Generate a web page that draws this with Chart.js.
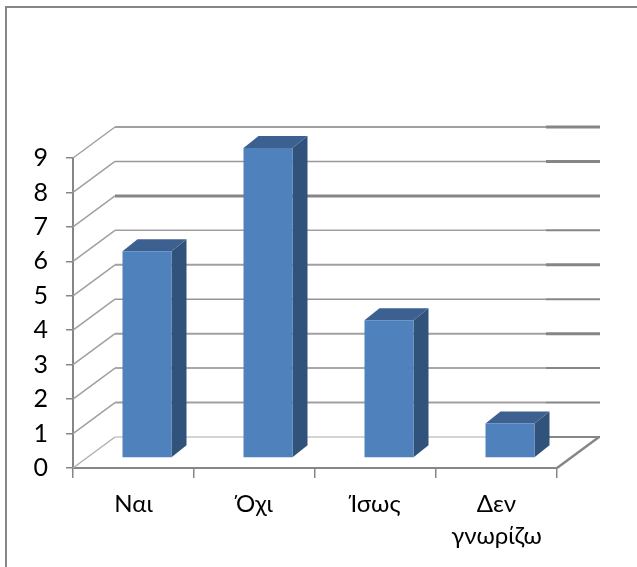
<!DOCTYPE html>
<html lang="el">
<head>
<meta charset="utf-8">
<title>Απαντήσεις</title>
<style>
  html, body { margin: 0; padding: 0; background: #fff; }
  canvas { display: block; }
</style>
<script src="https://cdn.jsdelivr.net/npm/chart.js@4/dist/chart.umd.min.js"></script>
</head>
<body>
<canvas id="chart" width="637" height="567"></canvas>
<script>
const categories = ['Ναι', 'Όχι', 'Ίσως', ['Δεν', 'γνωρίζω']];
const answers = [6, 9, 4, 1];
const axisTicks = [0, 1, 2, 3, 4, 5, 6, 7, 8, 9];

// Stroke weights and tones of the back-wall gridlines, indexed by axis value.
const wallWidths = [2, 2, 1.5, 2, 1.5, 2, 1.5, 3, 1.5, 2];
const wallTones = ['#d4d4d4', '#a0a0a0', '#8c8c8c', '#a0a0a0', '#969696', '#a0a0a0', '#a0a0a0', '#858585', '#999999', '#a0a0a0'];
const stubWidths = [2, 2, 2, 3, 2, 3, 2, 3, 3, 3];

const AXIS = '#868686';
const BAR_FRONT = '#4f81bd';
const BAR_SIDE = '#31527a';
const BAR_TOP = '#3c6190';

// Oblique projection of the box: walls recede by these offsets.
const WALL_DX = 42, WALL_DY = 31;
const BAR_DX = 15, BAR_DY = 12;
const BAR_SHIFT_X = 13.5, BAR_SHIFT_Y = -10;

function stroke(ctx, x1, y1, x2, y2, color, width) {
  ctx.strokeStyle = color;
  ctx.lineWidth = width;
  ctx.beginPath();
  ctx.moveTo(x1, y1);
  ctx.lineTo(x2, y2);
  ctx.stroke();
}

function fillPoly(ctx, color, pts) {
  ctx.fillStyle = color;
  ctx.beginPath();
  pts.forEach((p, i) => (i ? ctx.lineTo(p[0], p[1]) : ctx.moveTo(p[0], p[1])));
  ctx.closePath();
  ctx.fill();
}

const box3d = {
  id: 'box3d',
  beforeDraw(chart) {
    const { ctx } = chart;
    ctx.save();
    // Outer chart frame, open on the right and at the bottom.
    stroke(ctx, 6, 7, 637, 7, AXIS, 2);
    stroke(ctx, 6, 6, 6, 567, AXIS, 2);
    ctx.restore();
  },
  beforeDatasetsDraw(chart) {
    const { ctx, chartArea: a, scales: { y } } = chart;
    ctx.save();
    axisTicks.forEach((v) => {
      const py = y.getPixelForValue(v);
      const by = py - WALL_DY;
      stroke(ctx, a.left, py, a.left + WALL_DX, by, v === 0 ? '#b0b0b0' : '#a0a0a0', 1.5);
      stroke(ctx, a.left + WALL_DX, by, 546, by, wallTones[v], wallWidths[v]);
      stroke(ctx, 546, by, a.right + WALL_DX + 1, by, AXIS, stubWidths[v]);
    });
    // Floor edge on the right-hand side.
    const py0 = y.getPixelForValue(0);
    stroke(ctx, a.right, py0, a.right + WALL_DX, py0 - WALL_DY, AXIS, 2.5);

    // Side and top faces of each bar, then shift the front faces onto the floor.
    chart.getDatasetMeta(0).data.forEach((bar) => {
      const l = bar.x - bar.width / 2 + BAR_SHIFT_X;
      const r = bar.x + bar.width / 2 + BAR_SHIFT_X;
      const t = bar.y + BAR_SHIFT_Y;
      const b = bar.base + BAR_SHIFT_Y;
      fillPoly(ctx, BAR_SIDE, [[r, t], [r + BAR_DX, t - BAR_DY], [r + BAR_DX, b - BAR_DY], [r, b]]);
      fillPoly(ctx, BAR_TOP, [[l, t], [l + BAR_DX, t - BAR_DY], [r + BAR_DX, t - BAR_DY], [r, t]]);
    });
    ctx.translate(BAR_SHIFT_X, BAR_SHIFT_Y);
  },
  afterDatasetsDraw(chart) {
    chart.ctx.restore();
  }
};

new Chart(document.getElementById('chart'), {
  type: 'bar',
  data: {
    labels: categories,
    datasets: [{
      data: answers,
      backgroundColor: BAR_FRONT,
      borderWidth: 0,
      barPercentage: 0.405,
      categoryPercentage: 1,
      clip: false
    }]
  },
  options: {
    responsive: false,
    animation: false,
    events: [],
    layout: { padding: { top: 158, right: 80, left: 0, bottom: 0 } },
    plugins: { legend: { display: false }, title: { display: false }, tooltip: { enabled: false } },
    scales: {
      x: {
        afterFit(s) { s.height = 99; },
        border: { color: AXIS, width: 2 },
        grid: { drawOnChartArea: false, color: AXIS, tickLength: 10, lineWidth: 1.5, offset: true },
        ticks: {
          color: '#000',
          font: { family: 'Lato, "Noto Sans"', size: 24, lineHeight: 1.35 },
          padding: 10,
          maxRotation: 0,
          autoSkip: false
        }
      },
      y: {
        min: 0,
        max: 9,
        afterFit(s) { s.width = 73; },
        afterBuildTicks(s) { s.ticks = axisTicks.map((value) => ({ value })); },
        border: { color: AXIS, width: 2 },
        grid: { drawOnChartArea: false, color: AXIS, tickLength: 7, lineWidth: 1.5 },
        ticks: {
          color: '#000',
          font: { family: 'Lato, "Noto Sans"', size: 25 },
          padding: 18
        }
      }
    }
  },
  plugins: [box3d]
});
</script>
</body>
</html>
